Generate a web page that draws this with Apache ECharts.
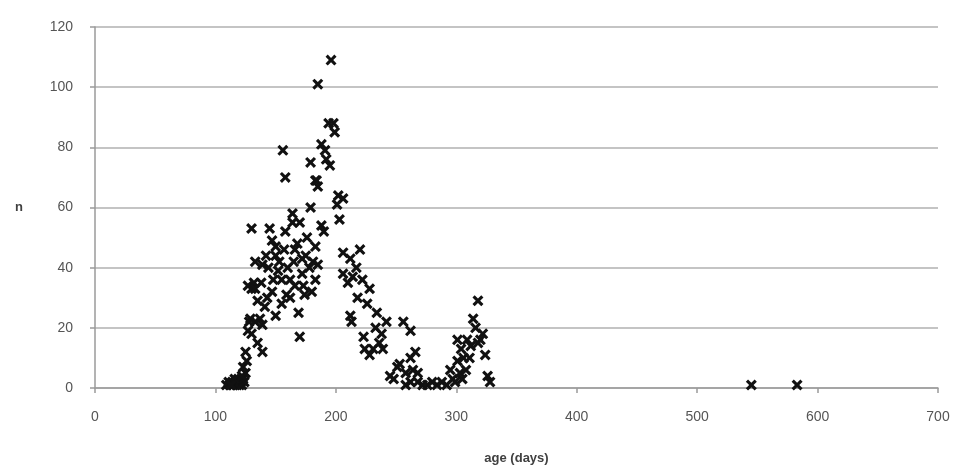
<!DOCTYPE html>
<html>
<head>
<meta charset="utf-8">
<script src="https://cdn.jsdelivr.net/npm/echarts@6/dist/echarts.min.js"></script>
<style>html,body{margin:0;padding:0;background:#fff}#c{width:965px;height:470px}</style>
</head>
<body>
<div id="c"></div>
<script>
// x: age (days), y: n
const ageDays = [
  109,111,112,114,115,117,118,119,120,121,122,123,116,113,124,125,122,
  123,125,126,127,128,130,129,133,135,139,139,137,127,130,132,130,133,139,141,147,150,144,145,150,150,152,155,
  156,158,158,159,164,164,166,166,169,170,172,172,174,173,176,179,179,183,183,183,181,185,196,194,198,199,188,191,195,184,185,
  202,206,201,203,188,190,206,212,220,206,214,228,218,226,234,242,212,213,223,231,239,224,245,251,256,262,266,262,253,248,
  258,262,268,272,276,280,284,288,292,295,297,301,301,305,306,309,311,314,316,318,320,324,326,328,299,303,308,312,318,322,304,
  142,147,153,157,160,162,165,168,170,175,178,180,185,162,155,148,143,138,135,133,
  217,210,222,236,228,233,238,264,268,258,192,
  545,583
];
const countN = [
  1,2,1,2,1,2,1,3,1,2,1,3,3,1,2,5,4,
  7,12,9,19,22,18,23,22,15,12,21,23,34,33,35,53,42,41,27,32,24,40,53,47,44,39,36,
  79,70,52,31,58,55,46,34,25,17,43,38,31,34,50,75,60,69,47,36,42,101,109,88,88,85,81,79,74,69,67,
  64,63,61,56,54,52,45,43,46,38,37,33,30,28,25,22,24,22,17,13,13,13,4,7,22,19,12,10,8,3,
  1,2,2,1,1,2,1,2,1,6,3,9,16,3,10,16,10,23,20,29,16,11,4,2,2,5,6,14,15,18,13,
  44,49,42,46,40,36,42,48,55,44,40,32,41,30,28,36,30,35,29,33,
  40,35,36,15,11,20,18,6,5,5,76,
  1,1
];
const xTicks = [0,100,200,300,400,500,600,700];
const yTicks = [0,20,40,60,80,100,120];

const points = ageDays.map((a, i) => [a, countN[i]]);
const xMark = 'path://M2,0 L5,3 L8,0 L10,2 L7,5 L10,8 L8,10 L5,7 L2,10 L0,8 L3,5 L0,2 Z';

const chart = echarts.init(document.getElementById('c'), null, {renderer: 'canvas'});
chart.setOption({
  animation: false,
  backgroundColor: '#ffffff',
  grid: {left: 95, right: 27, top: 27, bottom: 80, containLabel: false},
  xAxis: {
    type: 'value', min: xTicks[0], max: xTicks[xTicks.length - 1], interval: 100,
    name: 'age (days)', nameLocation: 'middle', nameGap: 64,
    nameTextStyle: {fontFamily: 'Liberation Sans', fontSize: 13, fontWeight: 'bold', color: '#404040'},
    axisLine: {show: true, lineStyle: {color: '#9a9a9a', width: 1.5}},
    axisTick: {show: true, inside: false, length: 5, lineStyle: {color: '#9a9a9a', width: 1.5}},
    axisLabel: {margin: 22, fontFamily: 'Liberation Sans', fontSize: 14, color: '#555555'},
    splitLine: {show: false}
  },
  yAxis: {
    type: 'value', min: yTicks[0], max: yTicks[yTicks.length - 1], interval: 20,
    name: 'n', nameLocation: 'middle', nameGap: 72, nameRotate: 0,
    nameTextStyle: {fontFamily: 'Liberation Sans', fontSize: 13, fontWeight: 'bold', color: '#404040'},
    axisLine: {show: true, lineStyle: {color: '#9a9a9a', width: 1.5}},
    axisTick: {show: true, inside: false, length: 5, lineStyle: {color: '#9a9a9a', width: 1.5}},
    axisLabel: {margin: 22, fontFamily: 'Liberation Sans', fontSize: 14, color: '#555555'},
    splitLine: {show: true, lineStyle: {color: '#c4c4c4', width: 2}}
  },
  series: [{
    type: 'scatter',
    data: points,
    symbol: xMark,
    symbolSize: 11,
    itemStyle: {color: '#111111', opacity: 1}
  }]
});
</script>
</body>
</html>
